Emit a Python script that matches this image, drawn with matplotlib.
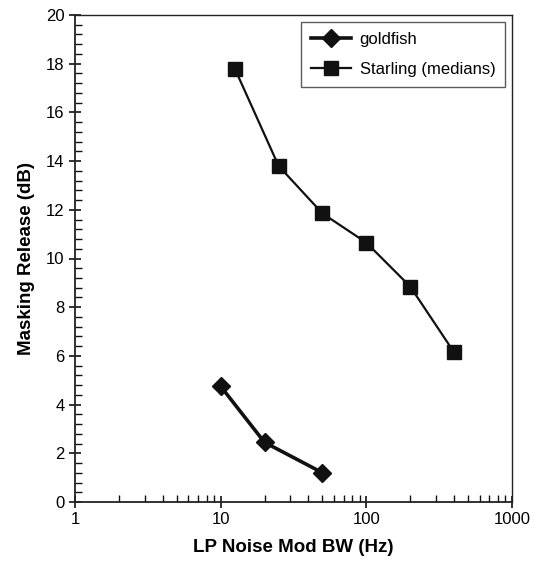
import matplotlib
matplotlib.use('Agg')
import matplotlib.pyplot as plt
from matplotlib.ticker import MultipleLocator, LogLocator, NullFormatter

plt.rcParams['font.family'] = ['Liberation Sans', 'DejaVu Sans']

# data
gold_bw = [10, 20, 50]
gold_release = [4.75, 2.45, 1.2]
star_bw = [12.5, 25, 50, 100, 200, 400]
star_release = [17.8, 13.8, 11.85, 10.65, 8.85, 6.15]
x_ticks = [1, 10, 100, 1000]
x_labels = ['1', '10', '100', '1000']

fig = plt.figure(figsize=(5.38, 5.64), dpi=100)
ax = fig.add_axes([75/538, 1-502/564, (512-75)/538, (502-15)/564])

ax.plot(gold_bw, gold_release, color='#111111', lw=2.6, marker='D',
        ms=9, label='goldfish')
ax.plot(star_bw, star_release, color='#111111', lw=1.6, marker='s',
        ms=10.5, label='Starling (medians)')

ax.set_xscale('log')
ax.set_xlim(1, 1000)
ax.set_ylim(0, 20)
ax.set_xticks(x_ticks)
ax.set_xticklabels(x_labels)
ax.xaxis.set_minor_locator(LogLocator(base=10, subs=range(2, 10)))
ax.xaxis.set_minor_formatter(NullFormatter())
ax.yaxis.set_major_locator(MultipleLocator(2))
ax.yaxis.set_minor_locator(MultipleLocator(0.4))

ax.tick_params(which='major', direction='inout', length=9, width=1.2,
               labelsize=12, color='#111111', pad=3)
ax.tick_params(which='minor', direction='in', length=5, width=1.0,
               color='#111111')
for s in ax.spines.values():
    s.set_linewidth(1.3)
    s.set_color('#222222')
ax.spines['top'].set_linewidth(1.0)
ax.spines['right'].set_linewidth(1.0)

ax.set_xlabel('LP Noise Mod BW (Hz)', fontsize=13.5, fontweight='bold', labelpad=8)
ax.set_ylabel('Masking Release (dB)', fontsize=13.5, fontweight='bold', labelpad=8)

leg = ax.legend(loc='upper right', fontsize=12, frameon=True, fancybox=False,
                edgecolor='#333333', handlelength=2.4, borderaxespad=0.4,
                labelspacing=0.9, borderpad=0.6, handletextpad=0.5)
leg.get_frame().set_linewidth(1.0)

fig.savefig('out.png', dpi=100)
